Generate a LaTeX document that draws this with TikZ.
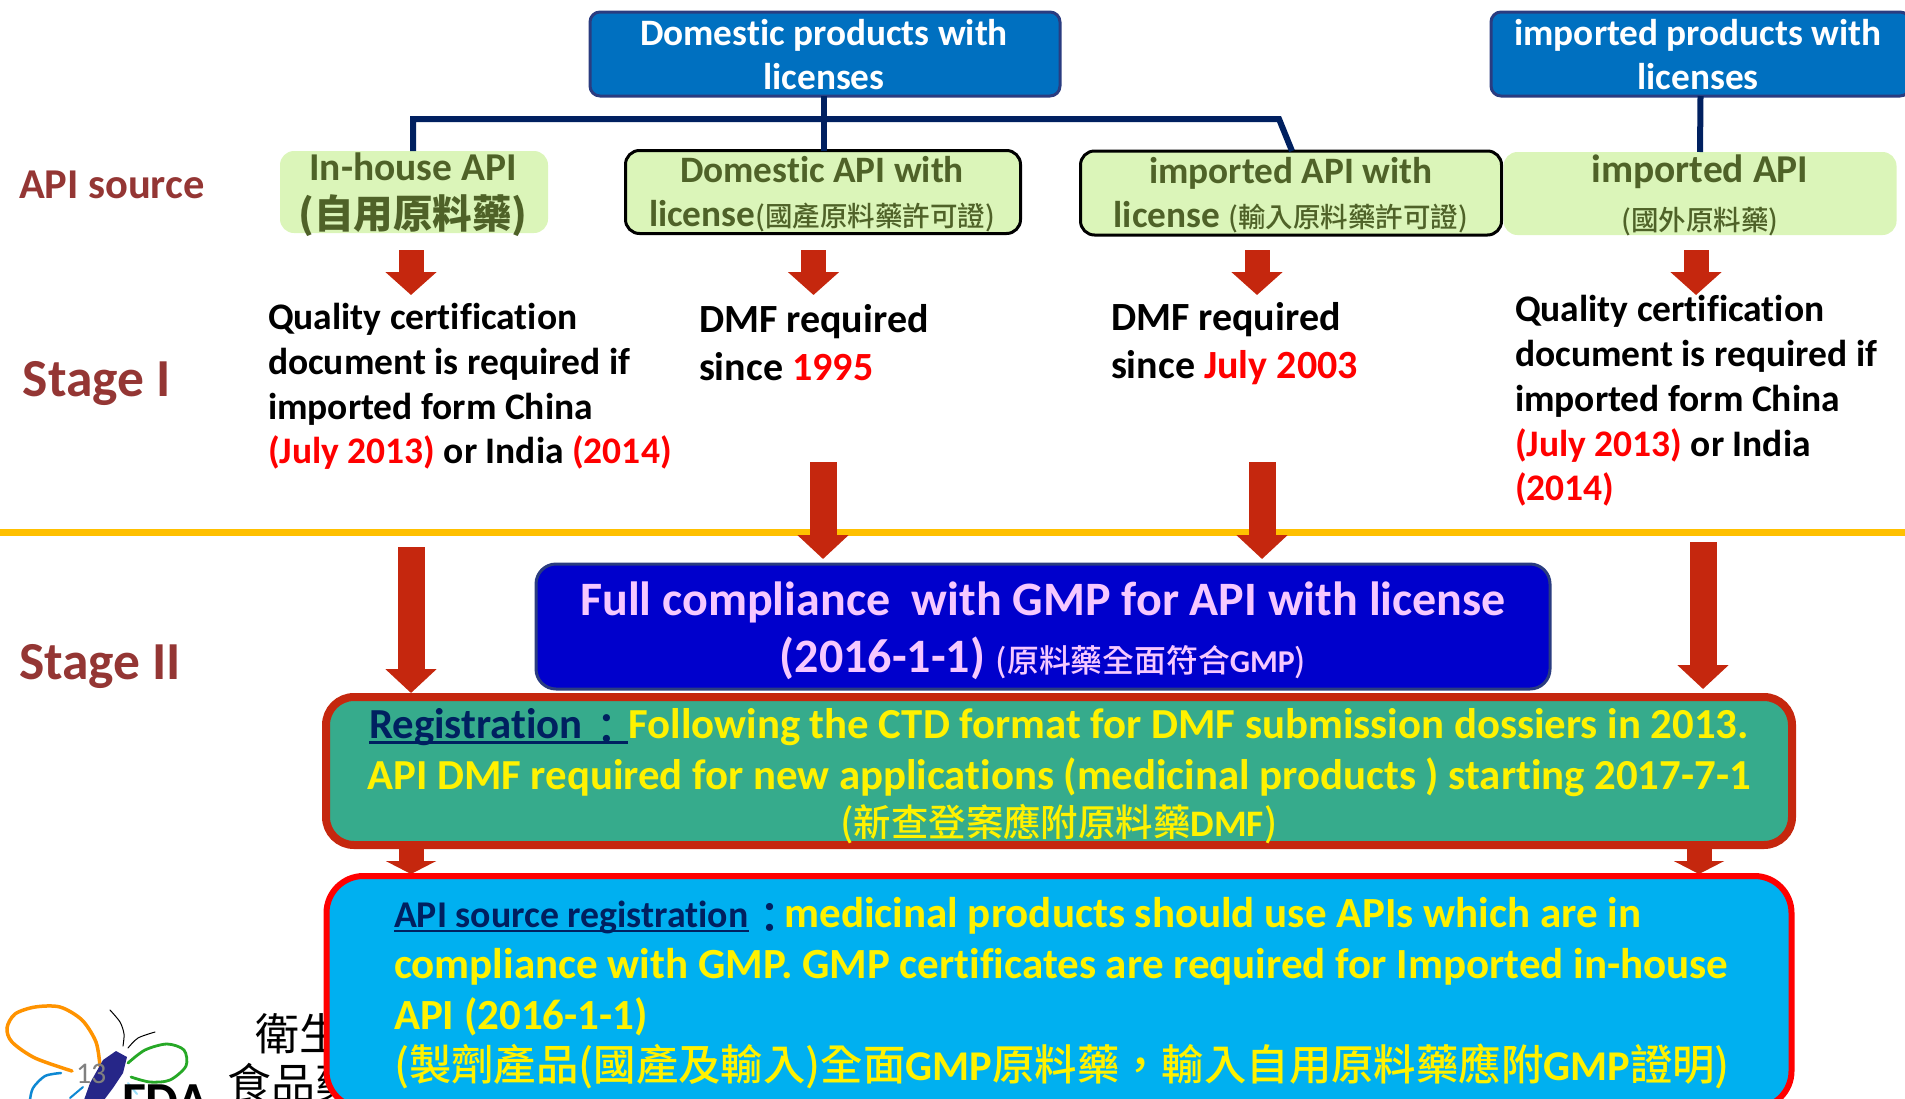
\documentclass[tikz,border=0pt]{standalone}
\usepackage{fontspec}
\usetikzlibrary{arrows.meta}
\setmainfont[Ligatures=NoCommon]{Carlito}
\newfontfamily\cjk[BoldFont={Noto Sans CJK TC Medium}]{Noto Sans CJK TC}
\newfontfamily\cjkheavy{Noto Sans CJK TC}
\newcommand{\cj}[1]{{\cjk #1}}
\newcommand{\cjcolon}{\raisebox{-6pt}{\cjk ：}}
\newlength\ulw
\newcommand{\ulined}[1]{\settowidth\ulw{#1}\rlap{\rule[-5pt]{\ulw}{2.5pt}}#1}
\newcommand{\fsz}[2]{\fontsize{#1}{#2}\selectfont}
\definecolor{boxblue}{HTML}{0070C0}
\definecolor{boxedge}{HTML}{2A3C80}
\definecolor{navy}{HTML}{002060}
\definecolor{lgreen}{HTML}{DBF5B9}
\definecolor{dgreen}{HTML}{4F6228}
\definecolor{brick}{HTML}{943634}
\definecolor{arrowred}{HTML}{C5270E}
\definecolor{amber}{HTML}{FFC000}
\definecolor{deepblue}{HTML}{0000CC}
\definecolor{lilac}{HTML}{F6C8FF}
\definecolor{teal}{HTML}{36AB8C}
\definecolor{sky}{HTML}{00B0F0}
\tikzset{
  x=1pt,y=-1pt,
  every node/.style={inner sep=0pt,outer sep=0pt},
  sz/.style 2 args={font=\bfseries\fontsize{#1}{#2}\selectfont},
  headbox/.style={draw=boxedge,line width=3pt,fill=boxblue,rounded corners=10pt},
  srcplain/.style={fill=lgreen,rounded corners=14pt},
  srcedged/.style={fill=lgreen,draw=black,line width=3pt,rounded corners=14pt},
  link/.style={draw=navy,line width=6pt},
  smallarrow/.style={draw=arrowred,line width=25pt,-{Triangle[length=23pt,width=50pt]}},
  bigarrow/.style={draw=arrowred,line width=27pt,-{Triangle[length=24pt,width=50pt]}},
  midarrow/.style={draw=arrowred,line width=25pt,-{Triangle[length=13pt,width=50pt]}},
  para/.style={anchor=west,align=left,text=black},
  tag/.style={anchor=west,text=brick},
}
\begin{document}
\begin{tikzpicture}
\useasboundingbox (0,0) rectangle (1905,1098);
\clip (0,0) rectangle (1905,1098);
% logo behind the blue box
\draw[color=orange!85!yellow,line width=3.5pt,line cap=round] plot[smooth] coordinates {(72,1071) (35,1058) (12,1042) (7,1028) (15,1014) (35,1007) (60,1007) (82,1020) (96,1042) (100,1066)};
\draw[color=green!60!black!85,line width=2.8pt,line cap=round] plot[smooth] coordinates {(128,1063) (145,1050) (167,1044) (184,1050) (186,1066) (170,1080) (150,1082) (131,1077)};
\draw[color=cyan!70!blue,line width=2.5pt,line cap=round] plot[smooth] coordinates {(61,1073) (45,1076) (33,1088) (30,1100)};
\draw[color=cyan!70!blue,line width=2pt,line cap=round] (83,1087) -- (70,1098);
\draw[color=cyan!40,line width=2pt,line cap=round] (128,1083) -- (137,1094);
\draw[black,line width=1pt,line cap=round] plot[smooth] coordinates {(110,1010) (120,1022) (124,1034) (123,1046)};
\draw[black,line width=1pt,line cap=round] plot[smooth] coordinates {(128,1048) (138,1038) (155,1032)};
\fill[color=blue!45!black!85] (116,1051) -- (127,1057) -- (123,1073) -- (113,1088) -- (104,1100) -- (84,1100) -- (90,1083) -- (103,1060) -- cycle;
\node[anchor=base west,text=black!50,font=\fontsize{30}{36}\selectfont] (pagenum) at (76,1083) {13};
\node[anchor=base west,text=black,font=\cjk\fontsize{44}{50}\selectfont] (ch1) at (255,1050) {衛生};
\node[anchor=base west,text=black,font=\cjk\fontsize{44}{50}\selectfont] (ch2) at (227,1100) {食品藥};
\node[anchor=base west,text=black,sz={52}{56}] (fda) at (122,1118) {FDA};

% header boxes
\node[headbox,minimum width=470pt,minimum height=84pt] (dom) at (825,54) {};
\node[headbox,minimum width=419pt,minimum height=84pt] (imp) at (1700.5,54) {};
\node[align=center,text=white,sz={37.3}{44.5}] (domt) at (824,54.5) {Domestic products with\\licenses};
\node[align=center,text=white,sz={37.3}{44.5}] (impt) at (1698,54.5) {imported products with\\licenses};

% source boxes
\node[srcplain,minimum width=268pt,minimum height=82pt] (s1) at (414,192) {};
\node[srcedged,minimum width=395pt,minimum height=83pt] (s2) at (823,192) {};
\node[srcedged,minimum width=421pt,minimum height=84pt] (s3) at (1291,193) {};
\node[srcplain,minimum width=393pt,minimum height=83pt] (s4) at (1700,193.5) {};
\coordinate (hub) at (824,119);
\coordinate (hubl) at (413,119);
\coordinate (hubr) at (1279,119);
\coordinate (s1top) at (413,151);
\coordinate (s3top) at (1292,151);
\draw[link] (s1top) -- (hubl) -- (hubr) -- (s3top);
\draw[link] (dom.south -| hub) -- (s2.north -| hub);
\draw[link] (imp.south) -- (s4.north);

\node[align=center,text=dgreen,sz={39.5}{48}] (s1t) at (413,195) {In-house API\\{\cjkheavy (自用原料藥)}};
\node[align=center,text=dgreen,sz={37.3}{44}] (s2t) at (822,194.5) {Domestic API with\\license{\fsz{27.5}{44}\cj{(國產原料藥許可證)}}};
\node[align=center,text=dgreen,sz={37.3}{44}] (s3t) at (1291,195) {imported API with\\license {\fsz{27.5}{44}\cj{(輸入原料藥許可證)}}};
\node[align=center,text=dgreen,sz={39.5}{48}] (s4t) at (1700,195) {imported API\\{\fsz{27.5}{48}\cj{(國外原料藥)}}};

% left labels
\node[tag,sz={42.5}{46}] (lab1) at (19,185) {API source};
\node[tag,sz={53.5}{56}] (lab2) at (23,383) {Stage I};
\node[tag,sz={53.5}{56}] (lab3) at (19,666) {Stage II};

% stage I arrows
\foreach \n/\cx in {a/411,b/813.5,c/1257,d/1696}{
  \coordinate (\n s) at (\cx,250);
  \coordinate (\n e) at (\cx,295);
  \draw[smallarrow] (\n s) -- (\n e);
}

% stage I text
\node[para,sz={37.5}{44.8}] (t1) at (268,386.5) {Quality certification\\document is required if\\imported form China\\\textcolor{red}{(July 2013)} or India \textcolor{red}{(2014)}};
\node[para,sz={40}{48.5}] (t2) at (699,342.5) {DMF required\\since \textcolor{red}{1995}};
\node[para,sz={40}{48.5}] (t3) at (1111,343.5) {DMF required\\since \textcolor{red}{July 2003}};
\node[para,sz={37.5}{44.8}] (t4) at (1515,401) {Quality certification\\document is required if\\imported form China\\\textcolor{red}{(July 2013)} or India\\\textcolor{red}{(2014)}};

% divider
\coordinate (divl) at (0,532);
\coordinate (divr) at (1905,532);
\draw[amber,line width=7pt] (divl) -- (divr);

% big arrows
\coordinate (e1s) at (823,462); \coordinate (e1e) at (823,559);
\coordinate (e2s) at (1262,462); \coordinate (e2e) at (1262,559);
\draw[bigarrow] (e1s) -- (e1e);
\draw[bigarrow] (e2s) -- (e2e);
\coordinate (f1s) at (411,547); \coordinate (f1e) at (411,693);
\coordinate (f2s) at (1703,542); \coordinate (f2e) at (1703,689);
\draw[bigarrow] (f1s) -- (f1e);
\draw[bigarrow] (f2s) -- (f2e);

% compliance box
\node[draw=boxedge,line width=3pt,fill=deepblue,rounded corners=20pt,minimum width=1014pt,minimum height=125pt] (full) at (1043,626.5) {};
\node[align=center,text=lilac,sz={48}{57}] (fullt) at (1043,630.5) {Full compliance\ \ with GMP for API with license\\(2016-1-1) {\fsz{31.8}{57}\cj{(原料藥全面符合}GMP\cj{)}}};

% mid arrows
\coordinate (g1s) at (411,845); \coordinate (g1e) at (411,874);
\coordinate (g2s) at (1699,845); \coordinate (g2e) at (1699,874);
\draw[midarrow] (g1s) -- (g1e);
\draw[midarrow] (g2s) -- (g2e);

% registration box
\node[draw=arrowred,line width=8pt,fill=teal,rounded corners=28pt,minimum width=1466pt,minimum height=148pt] (reg) at (1059,771) {};
\node[align=center,text=yellow,sz={42.8}{51}] (regt) at (1059,776.5) {{\color{navy}\ulined{Registration\hspace{3pt}\cjcolon}}Following the CTD format for DMF submission dossiers in 2013.\\API DMF required for new applications (medicinal products ) starting 2017-7-1\\[-4pt]{\fsz{37.4}{40}\cj{(新查登案應附原料藥}DMF\cj{)}}};

% source registration box
\node[draw=red,line width=6pt,fill=sky,rounded corners=37pt,minimum width=1465pt,minimum height=232pt] (src) at (1059,992) {};
\node[para,text=yellow,sz={43}{51}] (srct) at (394,993) {{\color{navy}\fsz{37.8}{51}\ulined{API source registration}}{\color{navy}\cjcolon}\hspace{-7pt}medicinal products should use APIs which are in\\compliance with GMP. GMP certificates are required for Imported in-house\\API (2016-1-1)\\{\fsz{42.4}{51}\cj{(製劑產品(國產及輸入)全面}GMP\cj{原料藥，輸入自用原料藥應附}GMP\cj{證明)}}};
\end{tikzpicture}
\end{document}
